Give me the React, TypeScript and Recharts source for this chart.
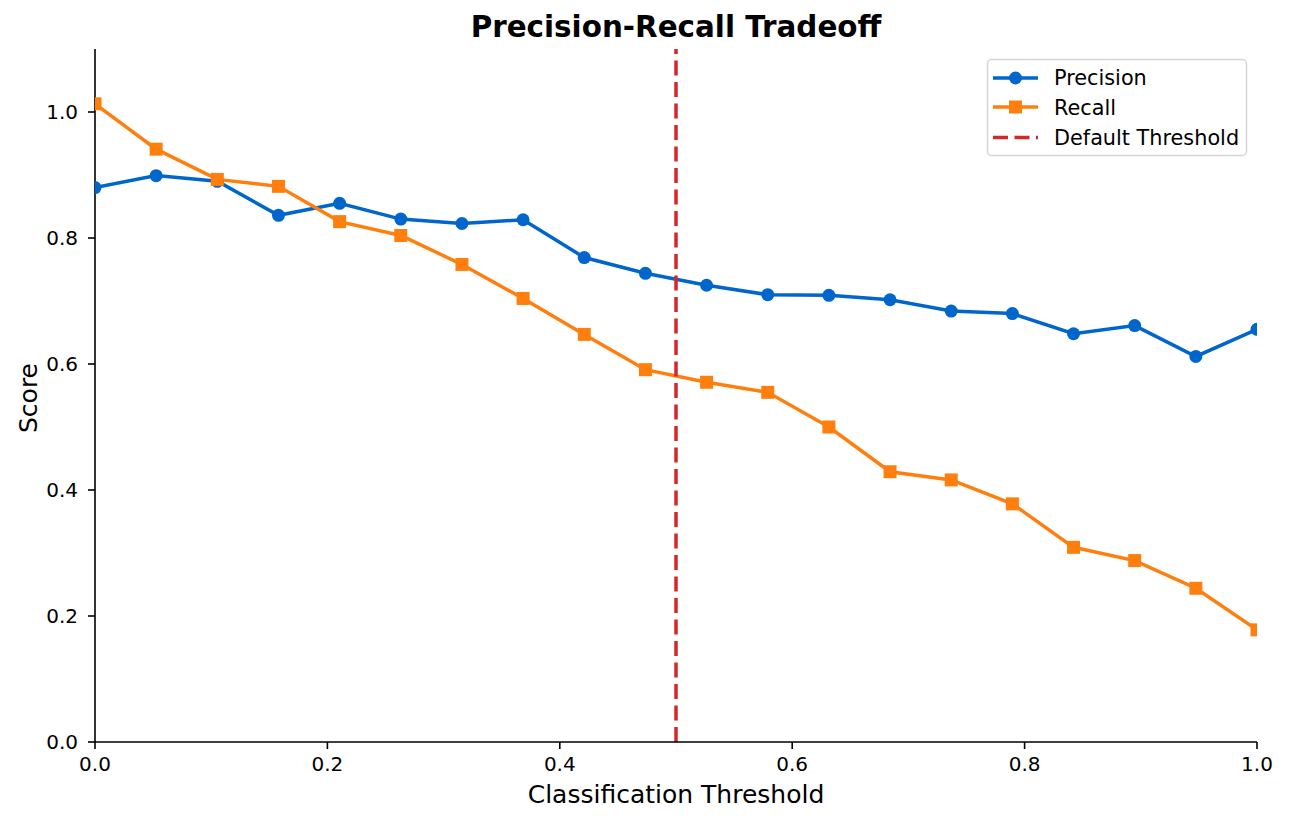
import React from "react";
import { LineChart, Line, XAxis, YAxis, ReferenceLine } from "recharts";

const thresholds = [
  0, 1 / 19, 2 / 19, 3 / 19, 4 / 19, 5 / 19, 6 / 19, 7 / 19, 8 / 19, 9 / 19,
  10 / 19, 11 / 19, 12 / 19, 13 / 19, 14 / 19, 15 / 19, 16 / 19, 17 / 19, 18 / 19, 1,
];
const precision = [
  0.88, 0.899, 0.89, 0.836, 0.855, 0.83, 0.823, 0.829, 0.769, 0.744,
  0.725, 0.71, 0.709, 0.702, 0.684, 0.68, 0.648, 0.661, 0.612, 0.655,
];
const recall = [
  1.013, 0.941, 0.893, 0.882, 0.826, 0.804, 0.758, 0.704, 0.647, 0.591,
  0.571, 0.555, 0.5, 0.429, 0.416, 0.378, 0.309, 0.288, 0.244, 0.178,
];
const xTicks = [0, 0.2, 0.4, 0.6, 0.8, 1.0];
const yTicks = [0, 0.2, 0.4, 0.6, 0.8, 1.0];
const defaultThreshold = 0.5;
const seriesNames = ["Precision", "Recall", "Default Threshold"];

const data = thresholds.map((t, i) => ({ t, precision: precision[i], recall: recall[i] }));

const BLUE = "#0066cc";
const ORANGE = "#ff7f0e";
const RED = "#d62728";
const FONT = "'DejaVu Sans', sans-serif";

const SquareDot = (props: any) => {
  const { cx, cy, index } = props;
  if (cx == null || cy == null) return null;
  return <rect key={`sq-${index}`} x={cx - 6.5} y={cy - 6.5} width={13} height={13} fill={ORANGE} />;
};

export default function App() {
  return (
    <div style={{ position: "absolute", left: 0, top: 0, width: 1289, height: 824, background: "#fff" }}>
      <LineChart
        width={1289}
        height={824}
        data={data}
        margin={{ top: 49, right: 32, bottom: 32, left: 35 }}
        style={{ position: "absolute", left: 0, top: 0 }}
      >
        <XAxis
          dataKey="t"
          type="number"
          domain={[0, 1]}
          ticks={xTicks}
          tickFormatter={(v: number) => v.toFixed(1)}
          height={50}
          allowDataOverflow
          stroke="#000"
          tickSize={7}
          tickMargin={8}
          tick={{ fill: "#000", fontSize: 20, fontFamily: FONT }}
          axisLine={{ stroke: "#000", strokeWidth: 1.6 }}
          tickLine={{ stroke: "#000", strokeWidth: 1.6 }}
        />
        <YAxis
          type="number"
          domain={[0, 1.1]}
          ticks={yTicks}
          tickFormatter={(v: number) => v.toFixed(1)}
          width={60}
          allowDataOverflow
          stroke="#000"
          tickSize={7}
          tickMargin={10}
          tick={{ fill: "#000", fontSize: 20, fontFamily: FONT }}
          axisLine={{ stroke: "#000", strokeWidth: 1.6 }}
          tickLine={{ stroke: "#000", strokeWidth: 1.6 }}
        />
        <Line
          dataKey="precision"
          name={seriesNames[0]}
          stroke={BLUE}
          strokeWidth={3.5}
          dot={{ r: 6.5, fill: BLUE, stroke: BLUE, strokeWidth: 0 }}
          activeDot={false}
          isAnimationActive={false}
        />
        <Line
          dataKey="recall"
          name={seriesNames[1]}
          stroke={ORANGE}
          strokeWidth={3.5}
          dot={SquareDot}
          activeDot={false}
          isAnimationActive={false}
        />
        <ReferenceLine x={defaultThreshold} stroke={RED} strokeWidth={3.5} strokeDasharray="15 6.5" />
      </LineChart>
      <svg
        width={1289}
        height={824}
        style={{ position: "absolute", left: 0, top: 0, pointerEvents: "none" }}
        fontFamily={FONT}
      >
        <text x={676} y={37} textAnchor="middle" fontSize={29.4} fontWeight="bold" fill="#000">
          Precision-Recall Tradeoff
        </text>
        <text x={676} y={803} textAnchor="middle" fontSize={25} fill="#000">
          Classification Threshold
        </text>
        <text
          x={0}
          y={0}
          transform="translate(36.5,398) rotate(-90)"
          textAnchor="middle"
          fontSize={25}
          fill="#000"
        >
          Score
        </text>
        <g>
          <rect x={987.5} y={59.5} width={259} height={96} rx={4} fill="rgba(255,255,255,0.8)" stroke="#d6d6d6" strokeWidth={1.5} />
          <line x1={993} x2={1038} y1={78} y2={78} stroke={BLUE} strokeWidth={3.5} />
          <circle cx={1015.5} cy={78} r={6.5} fill={BLUE} />
          <line x1={993} x2={1038} y1={107} y2={107} stroke={ORANGE} strokeWidth={3.5} />
          <rect x={1009} y={100.5} width={13} height={13} fill={ORANGE} />
          <line x1={993} x2={1038} y1={137.5} y2={137.5} stroke={RED} strokeWidth={3.5} strokeDasharray="15 6.5" />
          <text x={1054} y={84.5} fontSize={20.8} fill="#000">{seriesNames[0]}</text>
          <text x={1054} y={115} fontSize={20.8} fill="#000">{seriesNames[1]}</text>
          <text x={1054} y={145} fontSize={20.8} fill="#000">{seriesNames[2]}</text>
        </g>
      </svg>
    </div>
  );
}
